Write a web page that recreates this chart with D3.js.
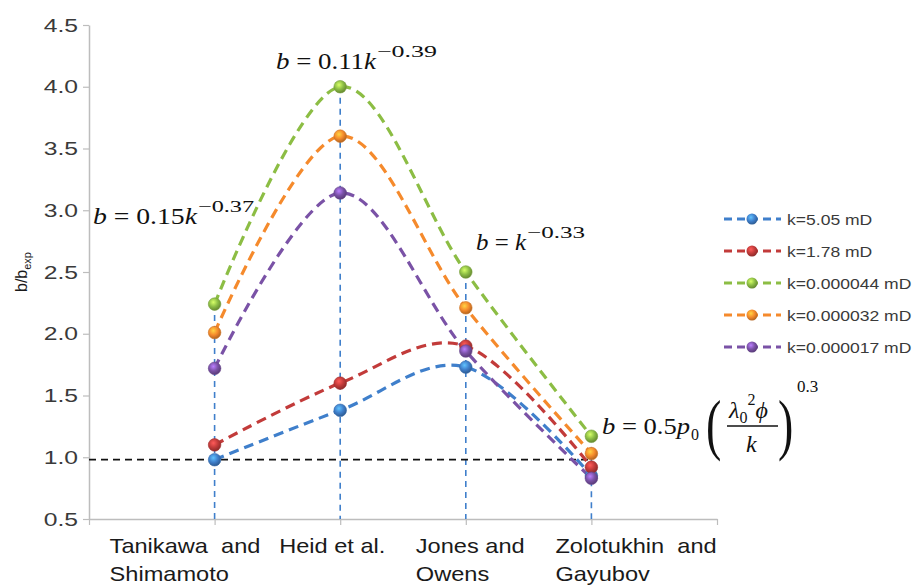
<!DOCTYPE html>
<html><head><meta charset="utf-8">
<script src="https://cdn.jsdelivr.net/npm/d3@7"></script>
<style>
html,body{margin:0;padding:0;background:#fff;}
svg{display:block;}
</style></head>
<body>
<svg id="chart" width="913" height="586"></svg>
<script>
// ---- data ----
const categories = [
  ["Tanikawa  and", "Shimamoto"],
  ["Heid et al.", ""],
  ["Jones and", "Owens"],
  ["Zolotukhin  and", "Gayubov"]
];
const seriesNames = ["k=5.05 mD", "k=1.78 mD", "k=0.000044 mD", "k=0.000032 mD", "k=0.000017 mD"];
const seriesColors = ["#3f7fcb", "#c23b3a", "#8cbd44", "#f58a2c", "#7a52a6"];
const vBlue   = [0.98, 1.38, 1.73, 0.85];
const vRed    = [1.10, 1.60, 1.90, 0.92];
const vGreen  = [2.24, 4.00, 2.50, 1.17];
const vOrange = [2.01, 3.60, 2.21, 1.03];
const vPurple = [1.72, 3.14, 1.86, 0.83];
const seriesValues = [vBlue, vRed, vGreen, vOrange, vPurple];
const yTicks = [0.5, 1.0, 1.5, 2.0, 2.5, 3.0, 3.5, 4.0, 4.5];
const refLine = 0.98;

// ---- layout ----
const svg = d3.select("#chart");
const x = d3.scaleLinear().domain([0, 5]).range([89, 717]);
const y = d3.scaleLinear().domain([0.5, 4.5]).range([519, 25]);
const catX = i => x(i + 1);
const sans = "Liberation Sans, Arial, sans-serif";
const serif = "Liberation Serif, 'DejaVu Serif', serif";

// defs: gradients for marker balls
const defs = svg.append("defs");
seriesColors.forEach((c, i) => {
  const g = defs.append("radialGradient").attr("id", "ball" + i)
    .attr("cx", "40%").attr("cy", "35%").attr("r", "65%");
  g.append("stop").attr("offset", "0%").attr("stop-color", d3.color(c).brighter(1.2));
  g.append("stop").attr("offset", "55%").attr("stop-color", c);
  g.append("stop").attr("offset", "100%").attr("stop-color", d3.color(c).darker(0.9));
});

// axes
const axisColor = "#bdbdbd";
const yAxis = d3.axisLeft(y).tickValues(yTicks).tickFormat(d3.format(".1f")).tickSize(6).tickSizeOuter(0);
const gy = svg.append("g").attr("transform", "translate(89,0)").call(yAxis);
gy.select(".domain").attr("stroke", axisColor).attr("stroke-width", 1.5);
gy.selectAll(".tick line").attr("stroke", axisColor).attr("stroke-width", 1.2);
const ySx = 1.3;
gy.selectAll(".tick text").attr("x", -11 / ySx).attr("transform", `scale(${ySx},1)`)
  .attr("font-family", sans).attr("font-size", 19).attr("fill", "#3a3a3a");

const xAxis = d3.axisBottom(x).tickValues([0,1,2,3,4,5]).tickFormat("").tickSize(6).tickSizeOuter(0);
const gx = svg.append("g").attr("transform", "translate(0,519)").call(xAxis);
gx.select(".domain").attr("stroke", axisColor).attr("stroke-width", 1.5);
gx.selectAll(".tick line").attr("stroke", axisColor).attr("stroke-width", 1.2);

// category labels
const labelOffsets = [-105, -61, -50, -36];
categories.forEach((lines, i) => {
  lines.forEach((t, j) => {
    if (!t) return;
    svg.append("text")
      .attr("transform", `translate(${catX(i) + labelOffsets[i]},${553 + j * 28}) scale(1.18,1)`)
      .attr("font-family", sans).attr("font-size", 20)
      .attr("fill", "#1a1a1a").style("white-space", "pre").text(t);
  });
});

// y axis title
const yt = svg.append("text").attr("transform", "translate(27,272) rotate(-90)")
  .attr("text-anchor", "middle").attr("font-family", sans)
  .attr("font-size", 16).attr("fill", "#1a1a1a");
yt.append("tspan").text("b/b");
yt.append("tspan").attr("font-size", 11).attr("dy", 4).text("exp");

// drop lines (from highest series value to axis)
categories.forEach((c, i) => {
  const top = d3.max(seriesValues, s => s[i]);
  svg.append("line").attr("x1", catX(i)).attr("x2", catX(i))
    .attr("y1", y(top)).attr("y2", y(0.5))
    .attr("stroke", "#3f7fcb").attr("stroke-width", 1.6).attr("stroke-dasharray", "6,5");
});

// reference line
svg.append("line").attr("x1", x(0)).attr("x2", catX(3))
  .attr("y1", y(refLine)).attr("y2", y(refLine))
  .attr("stroke", "#111").attr("stroke-width", 1.8).attr("stroke-dasharray", "7,5");

// series lines
const line = d3.line().x((d, i) => catX(i)).y(d => y(d)).curve(d3.curveCardinal.tension(0));
seriesValues.forEach((vals, si) => {
  svg.append("path").attr("d", line(vals)).attr("fill", "none")
    .attr("stroke", seriesColors[si]).attr("stroke-width", 3.2)
    .attr("stroke-dasharray", "10,6");
});
// markers
seriesValues.forEach((vals, si) => {
  svg.append("g").selectAll("circle").data(vals).join("circle")
    .attr("cx", (d, i) => catX(i)).attr("cy", d => y(d)).attr("r", 6.3)
    .attr("fill", `url(#ball${si})`).attr("stroke", d3.color(seriesColors[si]).darker(0.5)).attr("stroke-width", 0.6);
});

// legend
const lg = svg.append("g").attr("transform", "translate(724,219)");
seriesNames.forEach((n, i) => {
  const g = lg.append("g").attr("transform", `translate(0,${i * 32})`);
  g.append("line").attr("x1", 0).attr("x2", 57).attr("y1", 0).attr("y2", 0)
    .attr("stroke", seriesColors[i]).attr("stroke-width", 3).attr("stroke-dasharray", "8,5");
  g.append("circle").attr("cx", 28).attr("cy", 0).attr("r", 5.5).attr("fill", `url(#ball${i})`);
  g.append("text").attr("transform", "translate(63,5.5) scale(1.17,1)").attr("font-family", sans)
    .attr("font-size", 15).attr("fill", "#3a3a3a").text(n);
});

// formulas
function formula(xp, yp, coef, exp, mainLen, supLen) {
  const t = svg.append("text").attr("x", xp).attr("y", yp).attr("font-family", serif)
    .attr("font-size", 24).attr("fill", "#111")
    .attr("textLength", mainLen).attr("lengthAdjust", "spacingAndGlyphs");
  t.append("tspan").attr("font-style", "italic").text("b");
  t.append("tspan").text(" = " + coef);
  t.append("tspan").attr("font-style", "italic").text("k");
  svg.append("text").attr("x", xp + mainLen + 1).attr("y", yp - 12).attr("font-family", serif)
    .attr("font-size", 17).attr("fill", "#111")
    .attr("textLength", supLen).attr("lengthAdjust", "spacingAndGlyphs").text(exp);
}
formula(276, 69, "0.11", "\u22120.39", 100, 60);
formula(93, 224, "0.15", "\u22120.37", 104, 56);
formula(476, 250, "", "\u22120.33", 50, 58);

// fourth formula
const f4 = svg.append("g").attr("font-family", serif).attr("fill", "#111");
const t4 = f4.append("text").attr("x", 602).attr("y", 434).attr("font-size", 24)
  .attr("textLength", 88).attr("lengthAdjust", "spacingAndGlyphs");
t4.append("tspan").attr("font-style", "italic").text("b");
t4.append("tspan").text(" = 0.5");
t4.append("tspan").attr("font-style", "italic").text("p");
f4.append("text").attr("x", 691).attr("y", 440).attr("font-size", 16).text("0");
f4.append("text").attr("transform", "translate(706,447) scale(1,1.45)").attr("font-size", 46).attr("font-weight", 200).text("(");
const num = f4.append("text").attr("x", 729).attr("y", 418).attr("font-size", 24);
num.append("tspan").attr("font-style", "italic").text("\u03bb");
num.append("tspan").attr("font-size", 16).attr("dy", 5).text("0");
num.append("tspan").attr("font-size", 16).attr("dy", -18).text("2");
num.append("tspan").attr("font-style", "italic").attr("dy", 13).text("\u03d5");
f4.append("line").attr("x1", 727).attr("x2", 778).attr("y1", 426).attr("y2", 426).attr("stroke", "#111").attr("stroke-width", 1.3);
f4.append("text").attr("x", 746).attr("y", 452).attr("font-size", 24).attr("font-style", "italic").text("k");
f4.append("text").attr("transform", "translate(778,447) scale(1,1.45)").attr("font-size", 46).attr("font-weight", 200).text(")");
f4.append("text").attr("x", 797).attr("y", 392).attr("font-size", 17).text("0.3");
</script>
</body></html>
